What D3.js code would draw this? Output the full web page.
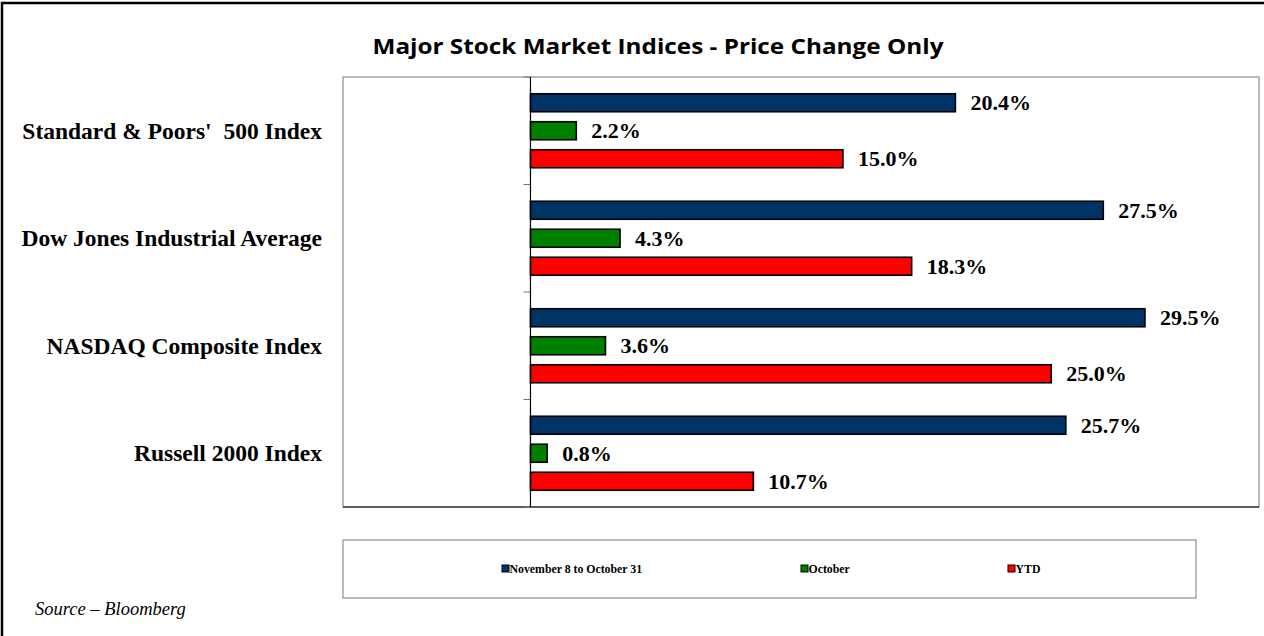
<!DOCTYPE html>
<html>
<head>
<meta charset="utf-8">
<script src="https://cdn.jsdelivr.net/npm/d3@7"></script>
<style>
  html, body { margin: 0; padding: 0; background: #fff; }
  svg { display: block; }
  text { white-space: pre; }
</style>
</head>
<body>
<div id="chart"></div>
<script>
const categories = [
    "Standard & Poors'  500 Index",
    "Dow Jones Industrial Average",
    "NASDAQ Composite Index",
    "Russell 2000 Index"
];
const seriesNames = ["November 8 to October 31", "October", "YTD"];
const sinceElection = [20.4, 27.5, 29.5, 25.7];
const october = [2.2, 4.3, 3.6, 0.8];
const ytd = [15.0, 18.3, 25.0, 10.7];
const seriesColors = ["#003366", "#008000", "#FF0000"];

const W = 1264, H = 636;
const plot = { left: 343, top: 77, right: 1259, bottom: 507 };
const serif = "'Liberation Serif', 'Times New Roman', serif";

const svg = d3.select("#chart").append("svg")
    .attr("width", W)
    .attr("height", H);

// outer frame (only top and left are in view)
svg.append("rect")
    .attr("x", 2).attr("y", 3)
    .attr("width", W + 10).attr("height", H + 10)
    .attr("fill", "#fff")
    .attr("stroke", "#000")
    .attr("stroke-width", 2.5);

// title
svg.append("text")
    .attr("x", 658)
    .attr("y", 54)
    .attr("text-anchor", "middle")
    .attr("font-family", "'Open Sans', sans-serif")
    .attr("font-weight", "bold")
    .attr("font-size", "21.5px")
    .attr("textLength", 571)
    .attr("lengthAdjust", "spacingAndGlyphs")
    .text("Major Stock Market Indices - Price Change Only");

// plot area
svg.append("rect")
    .attr("x", plot.left).attr("y", plot.top)
    .attr("width", plot.right - plot.left)
    .attr("height", plot.bottom - plot.top)
    .attr("fill", "#fff")
    .attr("stroke", "#8c8c8c")
    .attr("stroke-width", 1.2);

const x = d3.scaleLinear().domain([-9, 35]).range([plot.left, plot.left + 44 * 20.83]);
const y0 = d3.scaleBand().domain(categories).range([plot.top, plot.bottom]);
const y1 = d3.scaleBand().domain(seriesNames)
    .range([16.75, 90.75])
    .paddingInner(10 / 28)
    .paddingOuter(0);

const rows = categories.map((c, i) => ({
    cat: c,
    values: [sinceElection[i], october[i], ytd[i]]
}));

// value axis line along the bottom
svg.append("line")
    .attr("x1", plot.left).attr("x2", plot.right)
    .attr("y1", plot.bottom).attr("y2", plot.bottom)
    .attr("stroke", "#000")
    .attr("stroke-width", 1.2);

// category tick marks at band boundaries
const tickYs = categories.map(c => y0(c)).concat([plot.bottom]);
svg.append("g").selectAll("line")
    .data(tickYs)
    .join("line")
    .attr("x1", x(0) - 7).attr("x2", x(0))
    .attr("y1", d => d).attr("y2", d => d)
    .attr("stroke", "#777")
    .attr("stroke-width", 1);

// category labels
svg.append("g").selectAll("text")
    .data(categories)
    .join("text")
    .attr("x", 322)
    .attr("y", d => y0(d) + y0.bandwidth() / 2 + 8)
    .attr("text-anchor", "end")
    .attr("font-family", serif)
    .attr("font-weight", "bold")
    .attr("font-size", "23.5px")
    .text(d => d);

// bars
const group = svg.append("g").selectAll("g")
    .data(rows)
    .join("g")
    .attr("transform", d => `translate(0,${y0(d.cat)})`);

const cells = d => d.values.map((v, j) => ({ name: seriesNames[j], value: v, color: seriesColors[j] }));

group.selectAll("rect")
    .data(cells)
    .join("rect")
    .attr("x", x(0))
    .attr("y", d => y1(d.name))
    .attr("width", d => x(d.value) - x(0))
    .attr("height", y1.bandwidth())
    .attr("fill", d => d.color)
    .attr("stroke", "#000")
    .attr("stroke-width", 1.6);

group.selectAll("text")
    .data(cells)
    .join("text")
    .attr("x", d => x(d.value) + 15)
    .attr("y", d => y1(d.name) + y1.bandwidth() / 2 + 7.5)
    .attr("font-family", serif)
    .attr("font-weight", "bold")
    .attr("font-size", "22px")
    .text(d => d.value.toFixed(1) + "%");

// category axis line
svg.append("line")
    .attr("x1", x(0)).attr("x2", x(0))
    .attr("y1", plot.top).attr("y2", plot.bottom)
    .attr("stroke", "#000")
    .attr("stroke-width", 1.2);

// legend
const legend = { left: 343, top: 540, right: 1196, bottom: 598 };
svg.append("rect")
    .attr("x", legend.left).attr("y", legend.top)
    .attr("width", legend.right - legend.left)
    .attr("height", legend.bottom - legend.top)
    .attr("fill", "#fff")
    .attr("stroke", "#8c8c8c")
    .attr("stroke-width", 1.2);

const legendX = [502, 801, 1008];
const item = svg.append("g").selectAll("g")
    .data(seriesNames)
    .join("g")
    .attr("transform", (d, i) => `translate(${legendX[i]},${(legend.top + legend.bottom) / 2})`);

item.append("rect")
    .attr("x", 0).attr("y", -4)
    .attr("width", 7).attr("height", 7)
    .attr("fill", (d, i) => seriesColors[i])
    .attr("stroke", "#000")
    .attr("stroke-width", 1);

item.append("text")
    .attr("x", 7.5)
    .attr("y", 4)
    .attr("font-family", serif)
    .attr("font-weight", "bold")
    .attr("font-size", "11.8px")
    .text(d => d);

// source note
svg.append("text")
    .attr("x", 35)
    .attr("y", 615)
    .attr("font-family", serif)
    .attr("font-style", "italic")
    .attr("font-size", "18.5px")
    .text("Source \u2013 Bloomberg");
</script>
</body>
</html>
